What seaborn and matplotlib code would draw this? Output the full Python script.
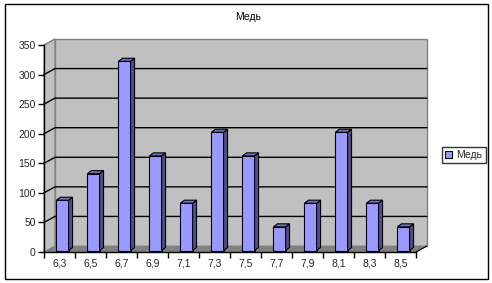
import matplotlib
matplotlib.use("Agg")
import matplotlib.pyplot as plt
from matplotlib.patches import Polygon, Rectangle
from matplotlib.lines import Line2D
import seaborn as sns
import pandas as pd

categories = ["6,3", "6,5", "6,7", "6,9", "7,1", "7,3", "7,5", "7,7", "7,9", "8,1", "8,3", "8,5"]
values = [85, 130, 320, 160, 80, 200, 160, 40, 80, 200, 80, 40]
series_name = "Медь"
title = "Медь"
yticks = [0, 50, 100, 150, 200, 250, 300, 350]

sns.set_theme(style="white")
plt.rcParams["font.family"] = ["Liberation Sans", "DejaVu Sans"]

W, H, DPI = 492, 283, 100
fig = plt.figure(figsize=(W / DPI, H / DPI), dpi=DPI)
fig.patch.set_facecolor("white")

# plot area in pixels
left, right, y0px, ytop = 44, 416, 252, 45
ax = fig.add_axes([left / W, (H - y0px) / H, (right - left) / W, (y0px - ytop) / H])
ax.set_facecolor("none")

df = pd.DataFrame({"x": categories, "y": values})
sns.barplot(data=df, x="x", y="y", order=categories, color="#9999FF", saturation=1,
            edgecolor="black", linewidth=0.8, width=0.39, ax=ax, zorder=3)

n = len(categories)
ymax = 350
ax.set_xlim(-0.5, n - 0.5)
ax.set_ylim(0, ymax)

pxx = (right - left) / n        # px per x unit
pxy = (y0px - ytop) / ymax      # px per y unit
dxu, dyu = 11 / pxx, 6 / pxy    # wall depth
sxu, syu = 3.0 / pxx, 1.5 / pxy  # bar shift
bxu, byu = 4 / pxx, 3 / pxy     # bar depth

wall = "#C0C0C0"
# side wall
ax.add_patch(Polygon([(-0.5, 0), (-0.5 + dxu, dyu), (-0.5 + dxu, ymax + dyu), (-0.5, ymax)],
                     closed=True, facecolor=wall, edgecolor="#808080", lw=0.8, clip_on=False, zorder=0.5))
# back wall
ax.add_patch(Rectangle((-0.5 + dxu, dyu), n, ymax, facecolor=wall, edgecolor="#808080",
                       lw=1.0, clip_on=False, zorder=0.5))
# floor
ax.add_patch(Polygon([(-0.5, 0), (-0.5 + dxu, dyu), (n - 0.5 + dxu, dyu), (n - 0.5, 0)],
                     closed=True, facecolor="#808080", edgecolor="#808080", lw=0.5, clip_on=False, zorder=0.7))
# gridlines
for v in yticks[1:-1]:
    ax.add_line(Line2D([-0.5, -0.5 + dxu, n - 0.5 + dxu], [v, v + dyu, v + dyu],
                       color="black", lw=1.0, clip_on=False, zorder=0.8))
ax.add_line(Line2D([-0.5, -0.5 + dxu], [ymax, ymax + dyu], color="#808080", lw=0.8,
                   clip_on=False, zorder=0.8))
ax.add_line(Line2D([n - 0.5, n - 0.5 + dxu], [0, dyu], color="black", lw=0.8,
                   clip_on=False, zorder=0.8))

# 3D faces of bars
for p in list(ax.containers[0]):
    x, w, h = p.get_x(), p.get_width(), p.get_height()
    x = x + sxu
    p.set_x(x)
    p.set_y(syu)
    top = h + syu
    ax.add_patch(Polygon([(x + w, syu), (x + w + bxu, syu + byu), (x + w + bxu, top + byu), (x + w, top)],
                         closed=True, facecolor="#4D4D8C", edgecolor="black", lw=0.8, zorder=3, clip_on=False))
    ax.add_patch(Polygon([(x, top), (x + bxu, top + byu), (x + w + bxu, top + byu), (x + w, top)],
                         closed=True, facecolor="#7373BF", edgecolor="black", lw=0.8, zorder=3, clip_on=False))

# axes styling
for s in ["top", "right"]:
    ax.spines[s].set_visible(False)
for s in ["left", "bottom"]:
    ax.spines[s].set_color("black")
    ax.spines[s].set_linewidth(1.0)
    ax.spines[s].set_zorder(5)
ax.set_yticks(yticks)
ax.set_yticklabels([str(v) for v in yticks])
ax.set_xticks([i - 0.5 for i in range(n + 1)])
ax.set_xticklabels([])
ax.set_xticks(range(n), minor=True)
ax.set_xticklabels(categories, minor=True)
ax.tick_params(axis="y", which="major", direction="out", length=4, width=1, color="black",
               labelsize=7.5, pad=2, left=True)
ax.tick_params(axis="x", which="major", direction="out", length=4, width=1, color="black", bottom=True)
ax.tick_params(axis="x", which="minor", length=0, labelsize=7.5, pad=5)
ax.set_xlabel("")
ax.set_ylabel("")
ax.grid(False)

fig.text(248 / W, 1 - 17 / H, title, ha="center", va="center", fontsize=7.5, color="black")

handle = Rectangle((0, 0), 1, 1, facecolor="#9999FF", edgecolor="black", lw=0.8)
leg = fig.legend([handle], [series_name], loc="center left",
                 bbox_to_anchor=(442 / W, 1 - 155 / H), fontsize=7.5, frameon=True, fancybox=False,
                 handlelength=0.7, handleheight=0.7, handletextpad=0.4, borderpad=0.3,
                 borderaxespad=0)
leg.get_frame().set_edgecolor("black")
leg.get_frame().set_linewidth(1.0)

fig.add_artist(Rectangle((4.5 / W, 4.5 / H), 483 / W, 275 / H, transform=fig.transFigure,
                         fill=False, edgecolor="black", lw=1.0))

fig.savefig("out.png", dpi=DPI)
